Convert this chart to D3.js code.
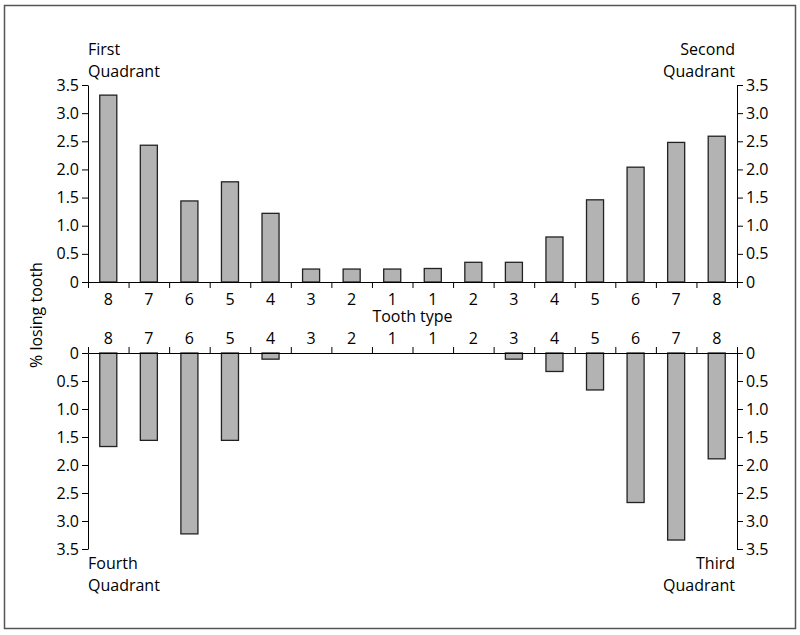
<!DOCTYPE html>
<html>
<head>
<meta charset="utf-8">
<script src="https://cdn.jsdelivr.net/npm/d3@7"></script>
<style>
  body { margin: 0; background: #fff; }
  text { font-family: "Open Sans", "Noto Sans", sans-serif; }
</style>
</head>
<body>
<script>
const teeth = ["8", "7", "6", "5", "4", "3", "2", "1", "1", "2", "3", "4", "5", "6", "7", "8"];
// upper jaw (first + second quadrant)
const upper = [3.32, 2.43, 1.44, 1.78, 1.22, 0.23, 0.23, 0.23, 0.24, 0.35, 0.35, 0.80, 1.46, 2.04, 2.48, 2.59];
// lower jaw (fourth + third quadrant)
const lower = [1.67, 1.56, 3.23, 1.56, 0.11, 0, 0, 0, 0, 0, 0.11, 0.33, 0.66, 2.67, 3.34, 1.89];
const yTicks = [0, 0.5, 1.0, 1.5, 2.0, 2.5, 3.0, 3.5];

const width = 800;
const height = 635;

const svg = d3.select('body')
    .append('svg')
    .attr('width', width)
    .attr('height', height);

// frame
svg.append('rect')
    .attr('x', 4.5).attr('y', 5.5)
    .attr('width', 791).attr('height', 623)
    .attr('fill', 'none')
    .attr('stroke', '#555')
    .attr('stroke-width', 1.5);

const left = 88, right = 737;
const idx = teeth.map((d, i) => i);

const x = d3.scaleBand()
    .domain(idx)
    .range([left, right])
    .paddingInner(0.58)
    .paddingOuter(0.29);

// boundary ticks between teeth
const xb = d3.scaleLinear().domain([0, teeth.length]).range([left, right]);
const bounds = d3.range(teeth.length + 1);

const yTop = d3.scaleLinear().domain([0, 3.5]).range([282, 85]);
const yBot = d3.scaleLinear().domain([0, 3.5]).range([353, 549]);

const fmt = d => d === 0 ? '0' : d.toFixed(1);
const fontSize = 16;

function styleAxis(g) {
  g.select('.domain').attr('stroke', '#000');
  g.selectAll('.tick line').attr('stroke', '#000');
  g.selectAll('text').style('font-size', fontSize + 'px').attr('fill', '#000')
    .style('font-family', '"Open Sans", "Noto Sans", sans-serif');
}

// y axes
[yTop, yBot].forEach(y => {
  svg.append('g')
    .attr('transform', `translate(${left},0)`)
    .call(d3.axisLeft(y).tickValues(yTicks).tickFormat(fmt).tickSizeOuter(0))
    .call(styleAxis);
  svg.append('g')
    .attr('transform', `translate(${right},0)`)
    .call(d3.axisRight(y).tickValues(yTicks).tickFormat(fmt).tickSizeOuter(0))
    .call(styleAxis);
});

// upper bars
svg.append('g')
  .selectAll('rect')
  .data(upper)
  .enter()
  .append('rect')
  .attr('x', (d, i) => x(i))
  .attr('y', d => yTop(d))
  .attr('width', x.bandwidth())
  .attr('height', d => yTop(0) - yTop(d))
  .style('fill', '#b3b3b3')
  .style('stroke', '#222')
  .style('stroke-width', 1.3);

// lower bars (hanging down), skip zero values
const lowerData = lower.map((v, i) => ({ i, v })).filter(d => d.v > 0);
svg.append('g')
  .selectAll('rect')
  .data(lowerData)
  .enter()
  .append('rect')
  .attr('x', d => x(d.i))
  .attr('y', yBot(0))
  .attr('width', x.bandwidth())
  .attr('height', d => yBot(d.v) - yBot(0))
  .style('fill', '#b3b3b3')
  .style('stroke', '#222')
  .style('stroke-width', 1.3);

// upper x axis: boundary ticks + labels
svg.append('g')
  .attr('transform', `translate(0,${yTop(0)})`)
  .call(d3.axisBottom(xb).tickValues(bounds).tickFormat('').tickSizeOuter(0))
  .call(styleAxis);
svg.append('g')
  .attr('transform', `translate(0,${yTop(0)})`)
  .call(d3.axisBottom(x).tickFormat(i => teeth[i]).tickSize(0).tickPadding(12))
  .call(styleAxis)
  .call(g => g.select('.domain').remove());

// lower x axis
svg.append('g')
  .attr('transform', `translate(0,${yBot(0)})`)
  .call(d3.axisTop(xb).tickValues(bounds).tickFormat('').tickSizeOuter(0))
  .call(styleAxis);
svg.append('g')
  .attr('transform', `translate(0,${yBot(0)})`)
  .call(d3.axisTop(x).tickFormat(i => teeth[i]).tickSize(0).tickPadding(9.5))
  .call(styleAxis)
  .call(g => g.select('.domain').remove());

// titles
svg.append('text')
  .attr('x', (left + right) / 2).attr('y', 322)
  .attr('text-anchor', 'middle')
  .style('font-size', fontSize + 'px')
  .text('Tooth type');

svg.append('text')
  .attr('transform', 'translate(42,315) rotate(-90)')
  .attr('text-anchor', 'middle')
  .style('font-size', fontSize + 'px')
  .text('% losing tooth');

const quads = [
  { lines: ['First', 'Quadrant'], x: left, y: 55, anchor: 'start' },
  { lines: ['Second', 'Quadrant'], x: right - 2, y: 55, anchor: 'end' },
  { lines: ['Fourth', 'Quadrant'], x: left, y: 569, anchor: 'start' },
  { lines: ['Third', 'Quadrant'], x: right - 2, y: 569, anchor: 'end' }
];
quads.forEach(q => {
  q.lines.forEach((t, k) => {
    svg.append('text')
      .attr('x', q.x).attr('y', q.y + k * 22)
      .attr('text-anchor', q.anchor)
      .style('font-size', fontSize + 'px')
      .text(t);
  });
});
</script>
</body>
</html>
